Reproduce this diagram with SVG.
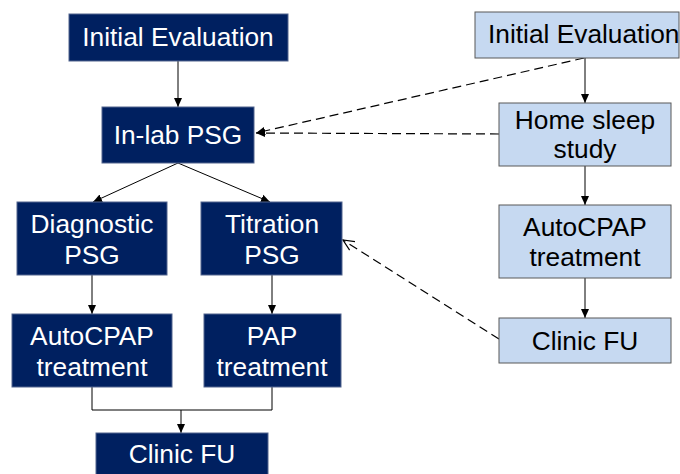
<svg xmlns="http://www.w3.org/2000/svg" width="680" height="474" viewBox="0 0 680 474">
<defs>
<style>
.dk{fill:#002060;stroke:#52648e;stroke-width:1}
.lt{fill:#c6d9f1;stroke:#595959;stroke-width:1}
.tw{font-family:"Liberation Sans",Arial,sans-serif;font-size:26.3px;fill:#ffffff;text-anchor:middle}
.tb{font-family:"Liberation Sans",Arial,sans-serif;font-size:26.3px;fill:#000000;text-anchor:middle}
.ln{fill:none;stroke:#000;stroke-width:1}
.ds{fill:none;stroke:#000;stroke-width:1.2;stroke-dasharray:9,5}
</style>
<marker id="ah" markerWidth="10" markerHeight="10" refX="9" refY="5" orient="auto" markerUnits="userSpaceOnUse">
<path d="M0,1 L9,5 L0,9 Z" fill="#000"/>
</marker>
<marker id="oh" markerWidth="14" markerHeight="12" refX="12" refY="6" orient="auto" markerUnits="userSpaceOnUse">
<path d="M1,1 L12,6 L1,11" fill="none" stroke="#000" stroke-width="1.2"/>
</marker>
</defs>
<rect width="680" height="474" fill="#ffffff"/>
<g id="connectors">
<line class="ln" x1="178" y1="61" x2="178" y2="107" marker-end="url(#ah)"/>
<line class="ln" x1="178" y1="163" x2="93" y2="202" marker-end="url(#ah)"/>
<line class="ln" x1="178" y1="163" x2="270" y2="202" marker-end="url(#ah)"/>
<line class="ln" x1="92" y1="275" x2="92" y2="314" marker-end="url(#ah)"/>
<line class="ln" x1="272" y1="275" x2="272" y2="314" marker-end="url(#ah)"/>
<polyline class="ln" points="92,387 92,410 272,410 272,387"/>
<line class="ln" x1="181" y1="410" x2="181" y2="433" marker-end="url(#ah)"/>
<line class="ln" x1="585" y1="58" x2="585" y2="103" marker-end="url(#ah)"/>
<line class="ln" x1="585" y1="166" x2="585" y2="205" marker-end="url(#ah)"/>
<line class="ln" x1="585" y1="278" x2="585" y2="318" marker-end="url(#ah)"/>
<line class="ds" x1="584" y1="58" x2="256" y2="133" marker-end="url(#ah)"/>
<line class="ds" x1="499" y1="134" x2="256" y2="133" marker-end="url(#ah)"/>
<line class="ds" x1="499" y1="339" x2="343" y2="240" marker-end="url(#oh)"/>
</g>
<g id="n_initial_left"><rect class="dk" x="69" y="14" width="219" height="47"/><text class="tw" x="178" y="46">Initial Evaluation</text></g>
<g id="n_inlab"><rect class="dk" x="102" y="107" width="152" height="56"/><text class="tw" x="178" y="144">In-lab PSG</text></g>
<g id="n_diag"><rect class="dk" x="17" y="202" width="150" height="73"/><text class="tw" x="92" y="233">Diagnostic</text><text class="tw" x="92" y="264">PSG</text></g>
<g id="n_titr"><rect class="dk" x="201" y="202" width="141" height="73"/><text class="tw" x="272" y="233">Titration</text><text class="tw" x="272" y="264">PSG</text></g>
<g id="n_auto_left"><rect class="dk" x="12" y="314" width="160" height="73"/><text class="tw" x="92" y="345">AutoCPAP</text><text class="tw" x="92" y="376">treatment</text></g>
<g id="n_pap"><rect class="dk" x="204" y="314" width="137" height="73"/><text class="tw" x="272" y="345">PAP</text><text class="tw" x="272" y="376">treatment</text></g>
<g id="n_clinic_left"><rect class="dk" x="96" y="433" width="172" height="50"/><text class="tw" x="182" y="463">Clinic FU</text></g>
<g id="n_initial_right"><rect class="lt" x="475" y="12" width="204" height="46"/><text class="tb" x="488" y="43" style="text-anchor:start">Initial Evaluation</text></g>
<g id="n_home"><rect class="lt" x="499" y="103" width="172" height="63"/><text class="tb" x="585" y="129">Home sleep</text><text class="tb" x="585" y="158">study</text></g>
<g id="n_auto_right"><rect class="lt" x="499" y="205" width="172" height="73"/><text class="tb" x="585" y="236">AutoCPAP</text><text class="tb" x="585" y="266">treatment</text></g>
<g id="n_clinic_right"><rect class="lt" x="499" y="318" width="172" height="45"/><text class="tb" x="585" y="350">Clinic FU</text></g>
</svg>
